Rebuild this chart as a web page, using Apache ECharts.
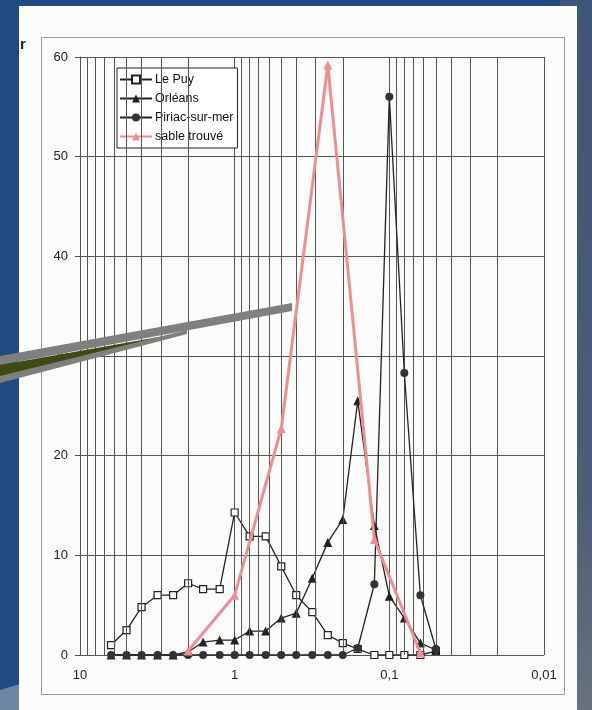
<!DOCTYPE html>
<html>
<head>
<meta charset="utf-8">
<script src="https://cdn.jsdelivr.net/npm/echarts@6/dist/echarts.min.js"></script>
<style>
html,body{margin:0;padding:0;background:#1f4b82;}
#c{width:592px;height:710px;}
</style>
</head>
<body>
<div id="c"></div>
<script>
// ---- data ----
const sieves = [6.3, 5, 4, 3.15, 2.5, 2, 1.6, 1.25, 1, 0.8, 0.63, 0.5, 0.4, 0.315, 0.25, 0.2, 0.16, 0.125, 0.1, 0.08, 0.063, 0.05];
const lePuy   = [1.0, 2.5, 4.8, 6.0, 6.0, 7.2, 6.6, 6.6, 14.3, 11.9, 11.9, 8.9, 6.0, 4.3, 2.0, 1.2, 0.6, 0, 0, 0, 0, 0.4];
const orleans = [0, 0, 0, 0, 0, 0.3, 1.3, 1.5, 1.5, 2.4, 2.4, 3.7, 4.2, 7.7, 11.3, 13.6, 25.5, 13.0, 5.9, 3.7, 1.2, 0.5];
const piriac  = [0, 0, 0, 0, 0, 0, 0, 0, 0, 0, 0, 0, 0, 0, 0, 0, 0.7, 7.1, 56.0, 28.3, 6.0, 0.6];
const sableSieves = [2, 1, 0.5, 0.25, 0.125, 0.063];
const sable       = [0.4, 6.0, 22.7, 59.2, 11.6, 0.2];
const seriesNames = ['Le Puy', 'Orléans', 'Piriac-sur-mer', 'sable trouvé'];
const xTickLabels = {10: '10', 1: '1', 0.1: '0,1', 0.01: '0,01'};

const zip = (xs, ys) => xs.map((x, i) => [x, ys[i]]);

// minor log grid lines (2..9 x 10^k)
const minorGrid = [];
[0.01, 0.1, 1].forEach(d => { for (let m = 2; m <= 9; m++) minorGrid.push(+(m * d).toPrecision(6)); });

const FONT = "'Liberation Sans', Arial, sans-serif";
const GRID_COLOR = '#555';
const INK = '#222';
const PINK = '#ef8d97';

const chart = echarts.init(document.getElementById('c'), null, {renderer: 'canvas'});
chart.setOption({
  backgroundColor: 'transparent',
  animation: false,
  textStyle: {fontFamily: FONT},
  graphic: [
    {type: 'rect', z: -20, shape: {x: 560, y: 0, width: 32, height: 710},
     style: {fill: new echarts.graphic.LinearGradient(0, 0, 0, 1, [
       {offset: 0, color: '#3e5677'}, {offset: 0.7, color: '#4d5d74'}, {offset: 1, color: '#68727f'}])}},
    {type: 'polygon', z: -19, shape: {points: [[0, 690], [60, 672], [60, 710], [0, 710]]},
     style: {fill: '#6f86a3'}},
    {type: 'rect', z: -10, shape: {x: 19, y: 6, width: 558, height: 704}, style: {fill: '#fbfbfa'}},
    {type: 'rect', z: -9, shape: {x: 41.5, y: 37.5, width: 523, height: 657}, style: {fill: 'none', stroke: '#999', lineWidth: 1}},
    {type: 'text', z: 10, left: 20, top: 37, style: {text: 'r', font: "bold 15px 'Liberation Sans', Arial", fill: '#222'}},
    {type: 'polygon', z: 100, shape: {points: [[0, 356], [292, 303], [292, 311], [0, 365]]}, style: {fill: '#7f7f7f'}},
    {type: 'polygon', z: 100, shape: {points: [[0, 365], [187, 332], [0, 377]]}, style: {fill: '#3d4a12'}},
    {type: 'polygon', z: 100, shape: {points: [[0, 376], [187, 330], [187, 334], [0, 383]]}, style: {fill: '#7f7f7f'}}
  ],
  legend: {
    orient: 'vertical', left: 117, top: 68,
    padding: [5, 4, 5, 2], itemGap: 6, itemWidth: 32, itemHeight: 10,
    backgroundColor: '#fff', borderColor: INK, borderWidth: 1, borderRadius: 0,
    textStyle: {fontSize: 12.5, color: '#111', fontFamily: FONT, padding: [0, 0, 0, -2]},
    data: seriesNames
  },
  grid: {left: 80, top: 57, width: 464, height: 598, containLabel: false},
  xAxis: {
    type: 'log', logBase: 10, min: 0.01, max: 10, inverse: true,
    axisLine: {show: false}, axisTick: {show: false},
    axisLabel: {margin: 14, fontSize: 13, color: '#222', fontFamily: FONT,
      formatter: v => xTickLabels[v] !== undefined ? xTickLabels[v] : String(v).replace('.', ',')},
    splitLine: {show: true, lineStyle: {color: GRID_COLOR, width: 1}}
  },
  yAxis: {
    type: 'value', min: 0, max: 60, interval: 10,
    axisLine: {show: true, lineStyle: {color: GRID_COLOR}},
    axisTick: {show: true, length: 5, lineStyle: {color: GRID_COLOR}},
    axisLabel: {margin: 12, fontSize: 13, color: '#222', fontFamily: FONT},
    splitLine: {show: true, lineStyle: {color: GRID_COLOR, width: 1}}
  },
  series: [
    {
      name: seriesNames[0], type: 'line', data: zip(sieves, lePuy),
      symbol: 'rect', symbolSize: 7,
      lineStyle: {color: INK, width: 1.3},
      itemStyle: {color: '#fff', borderColor: INK, borderWidth: 1.2},
      z: 3,
      markLine: {
        silent: true, symbol: ['none', 'none'], label: {show: false},
        lineStyle: {color: GRID_COLOR, width: 1, type: 'solid'},
        emphasis: {disabled: true},
        data: minorGrid.map(v => ({xAxis: v}))
      }
    },
    {
      name: seriesNames[1], type: 'line', data: zip(sieves, orleans),
      symbol: 'triangle', symbolSize: 9,
      lineStyle: {color: INK, width: 1.3},
      itemStyle: {color: INK},
      z: 4
    },
    {
      name: seriesNames[2], type: 'line', data: zip(sieves, piriac),
      symbol: 'circle', symbolSize: 8,
      lineStyle: {color: INK, width: 1.3},
      itemStyle: {color: '#333'},
      z: 5
    },
    {
      name: seriesNames[3], type: 'line', data: zip(sableSieves, sable),
      symbol: 'triangle', symbolSize: 9,
      lineStyle: {color: PINK, width: 3},
      itemStyle: {color: PINK},
      z: 6
    }
  ]
});
</script>
</body>
</html>
